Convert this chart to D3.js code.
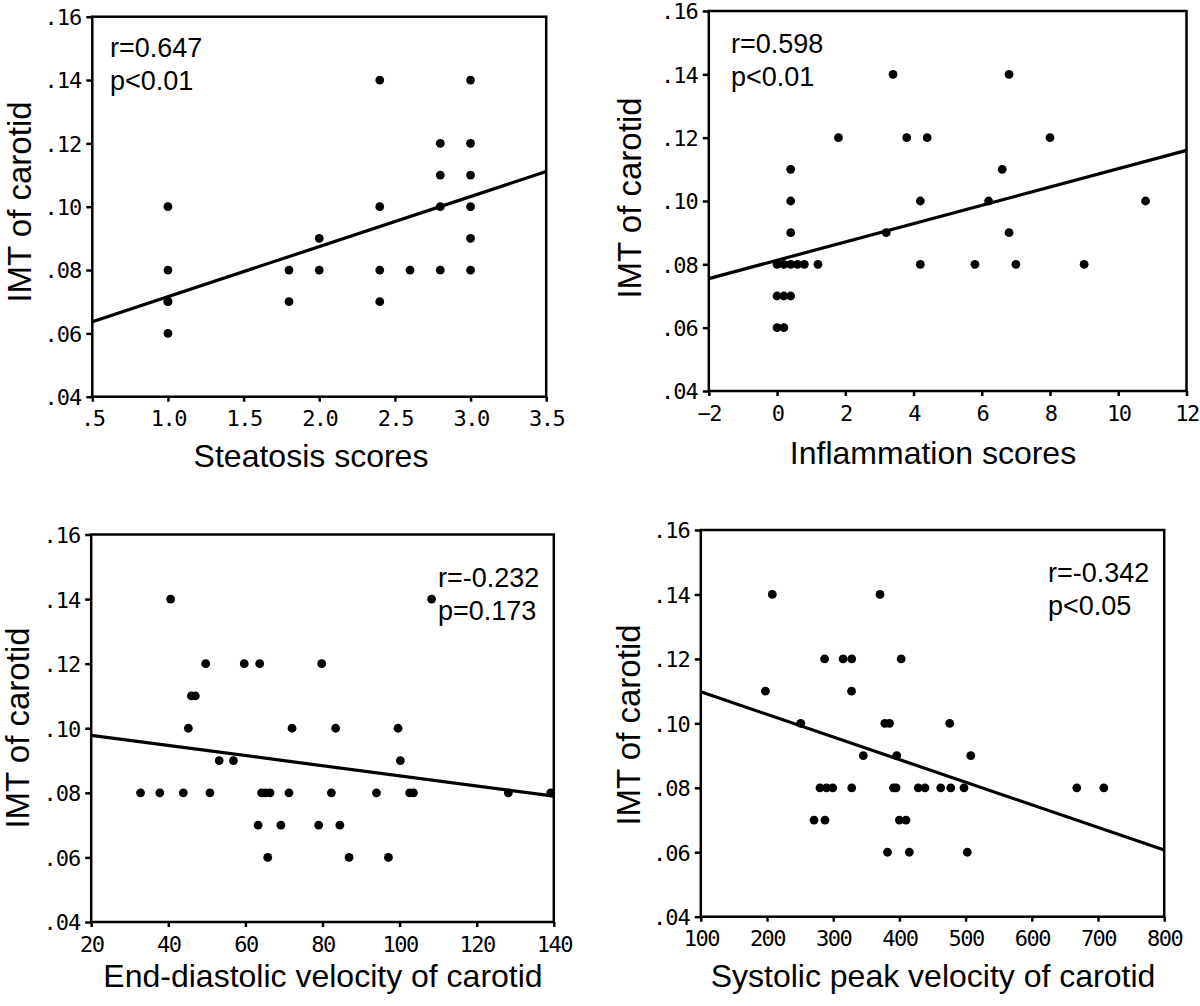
<!DOCTYPE html>
<html>
<head>
<meta charset="utf-8">
<script src="https://cdn.jsdelivr.net/npm/d3@7"></script>
<style>
  html, body { margin: 0; padding: 0; background: #fff; }
  svg { display: block; }
</style>
</head>
<body>
<svg id="chart" width="1200" height="1006"></svg>
<script>
// ---------------- DATA ----------------
const yTicks = [0.04, 0.06, 0.08, 0.10, 0.12, 0.14, 0.16];
const yLabel = "IMT of carotid";

// Panel 1: Steatosis scores
const steatosisTicks = [0.5, 1.0, 1.5, 2.0, 2.5, 3.0, 3.5];
const steatosisX = [1.0, 1.0, 1.0, 1.0, 1.0, 1.8, 1.8, 2.0, 2.0, 2.4, 2.4, 2.4, 2.4, 2.6, 2.8, 2.8, 2.8, 2.8, 3.0, 3.0, 3.0, 3.0, 3.0, 3.0];
const steatosisY = [0.10, 0.08, 0.07, 0.07, 0.06, 0.08, 0.07, 0.09, 0.08, 0.14, 0.10, 0.08, 0.07, 0.08, 0.12, 0.11, 0.10, 0.08, 0.14, 0.12, 0.11, 0.10, 0.09, 0.08];
const steatosisFit = [[0.5, 0.0637], [3.5, 0.1111]];
const steatosisStats = ["r=0.647", "p<0.01"];

// Panel 2: Inflammation scores
const inflammationTicks = [-2, 0, 2, 4, 6, 8, 10, 12];
const inflammationX = [0, 0.2, 0.4, 0.6, 0.8, 1.2, 0, 0.2, 0.4, 0, 0.2, 0.4, 0.4, 0.4, 1.8, 3.8, 4.4, 8.0, 3.4, 6.8, 4.2, 6.2, 10.8, 6.6, 3.2, 6.8, 4.2, 5.8, 7.0, 9.0];
const inflammationY = [0.08, 0.08, 0.08, 0.08, 0.08, 0.08, 0.07, 0.07, 0.07, 0.06, 0.06, 0.09, 0.10, 0.11, 0.12, 0.12, 0.12, 0.12, 0.14, 0.14, 0.10, 0.10, 0.10, 0.11, 0.09, 0.09, 0.08, 0.08, 0.08, 0.08];
const inflammationFit = [[-2, 0.0755], [12, 0.116]];
const inflammationStats = ["r=0.598", "p<0.01"];

// Panel 3: End-diastolic velocity
const edvTicks = [20, 40, 60, 80, 100, 120, 140];
const edvX = [40.6, 108.3, 49.7, 59.7, 63.7, 79.8, 46, 47, 45.2, 72.1, 83.4, 99.6, 53.2, 56.9, 100.2, 32.8, 37.8, 43.9, 50.8, 64.2, 65.2, 66.4, 71.3, 82.3, 94.0, 102.6, 103.6, 128.2, 139.2, 63.3, 69.2, 79.0, 84.5, 65.8, 86.9, 97.1];
const edvY = [0.14, 0.14, 0.12, 0.12, 0.12, 0.12, 0.11, 0.11, 0.10, 0.10, 0.10, 0.10, 0.09, 0.09, 0.09, 0.08, 0.08, 0.08, 0.08, 0.08, 0.08, 0.08, 0.08, 0.08, 0.08, 0.08, 0.08, 0.08, 0.08, 0.07, 0.07, 0.07, 0.07, 0.06, 0.06, 0.06];
const edvFit = [[20, 0.0978], [140, 0.079]];
const edvStats = ["r=-0.232", "p=0.173"];

// Panel 4: Systolic peak velocity
const spvTicks = [100, 200, 300, 400, 500, 600, 700, 800];
const spvX = [208, 370.7, 287, 315, 328, 402.7, 197.6, 327.7, 251, 378, 385, 476, 345.5, 396, 507.8, 280, 290, 299.3, 328, 391, 395, 428.5, 438.6, 462.4, 477.5, 497.6, 668, 708.8, 271, 287.6, 400, 410, 382, 415, 502.6];
const spvY = [0.14, 0.14, 0.12, 0.12, 0.12, 0.12, 0.11, 0.11, 0.10, 0.10, 0.10, 0.10, 0.09, 0.09, 0.09, 0.08, 0.08, 0.08, 0.08, 0.08, 0.08, 0.08, 0.08, 0.08, 0.08, 0.08, 0.08, 0.08, 0.07, 0.07, 0.07, 0.07, 0.06, 0.06, 0.06];
const spvFit = [[100, 0.1098], [800, 0.0607]];
const spvStats = ["r=-0.342", "p<0.05"];

const xTitles = ["Steatosis scores", "Inflammation scores", "End-diastolic velocity of carotid", "Systolic peak velocity of carotid"];

// ---------------- LAYOUT ----------------
const panels = [
  { xs: steatosisX, ys: steatosisY, ticks: steatosisTicks, fit: steatosisFit, stats: steatosisStats, title: xTitles[0],
    left: 92.3, right: 546.2, top: 16.7, bottom: 396.7,
    fmt: d => d === 0.5 ? ".5" : d3.format(".1f")(d),
    statX: 110, statY: 57, titleX: 311, titleY: 467, yTitleX: 31, yTitleY: 202 },
  { xs: inflammationX, ys: inflammationY, ticks: inflammationTicks, fit: inflammationFit, stats: inflammationStats, title: xTitles[1],
    left: 708.8, right: 1186.5, top: 11, bottom: 391,
    fmt: d => d < 0 ? "\u2212" + Math.abs(d) : String(d),
    statX: 731, statY: 53, titleX: 933, titleY: 464, yTitleX: 641, yTitleY: 198 },
  { xs: edvX, ys: edvY, ticks: edvTicks, fit: edvFit, stats: edvStats, title: xTitles[2],
    left: 91.2, right: 553.8, top: 534.5, bottom: 922,
    fmt: d => String(d),
    statX: 438, statY: 587, titleX: 323, titleY: 987, yTitleX: 29, yTitleY: 728 },
  { xs: spvX, ys: spvY, ticks: spvTicks, fit: spvFit, stats: spvStats, title: xTitles[3],
    left: 700.8, right: 1164.2, top: 530, bottom: 916.7,
    fmt: d => String(d),
    statX: 1048, statY: 582, titleX: 933, titleY: 987, yTitleX: 640, yTitleY: 725 }
];

const svg = d3.select("#chart");
const tickFont = "'DejaVu Sans Mono', monospace";
const textFont = "'Liberation Sans', Arial, sans-serif";
const yFmt = d => d3.format(".2f")(d).replace(/^0/, "");

panels.forEach(p => {
  const x = d3.scaleLinear().domain([p.ticks[0], p.ticks[p.ticks.length - 1]]).range([p.left, p.right]);
  const y = d3.scaleLinear().domain([0.04, 0.16]).range([p.bottom, p.top]);
  const g = svg.append("g");

  // y axis
  const ya = g.append("g").attr("transform", `translate(${p.left},0)`)
    .call(d3.axisLeft(y).tickValues(yTicks).tickFormat(yFmt).tickSize(6).tickSizeOuter(0).tickPadding(5));
  ya.select(".domain").remove();
  ya.selectAll(".tick line").attr("stroke", "#000").attr("stroke-width", 2.5);
  ya.selectAll(".tick text").attr("font-family", tickFont).attr("font-size", 22)
    .attr("letter-spacing", -1).attr("fill", "#000").attr("dy", "0.36em");

  // x axis
  const xa = g.append("g").attr("transform", `translate(0,${p.bottom})`)
    .call(d3.axisBottom(x).tickValues(p.ticks).tickFormat(p.fmt).tickSize(5).tickSizeOuter(0).tickPadding(9));
  xa.select(".domain").remove();
  xa.selectAll(".tick line").attr("stroke", "#000").attr("stroke-width", 2.5);
  xa.selectAll(".tick text").attr("font-family", tickFont).attr("font-size", 22)
    .attr("letter-spacing", -1.5).attr("fill", "#000");

  // frame
  g.append("rect")
    .attr("x", p.left).attr("y", p.top)
    .attr("width", p.right - p.left).attr("height", p.bottom - p.top)
    .attr("fill", "none").attr("stroke", "#000").attr("stroke-width", 2.5);

  // regression line
  g.append("line")
    .attr("x1", x(p.fit[0][0])).attr("y1", y(p.fit[0][1]))
    .attr("x2", x(p.fit[1][0])).attr("y2", y(p.fit[1][1]))
    .attr("stroke", "#000").attr("stroke-width", 3.2);

  // points
  g.selectAll("circle.pt").data(p.xs.map((v, i) => [v, p.ys[i]])).enter()
    .append("circle").attr("class", "pt")
    .attr("cx", d => x(d[0])).attr("cy", d => y(d[1])).attr("r", 4.4).attr("fill", "#000");

  // stats text
  p.stats.forEach((s, i) => {
    g.append("text").attr("x", p.statX).attr("y", p.statY + i * 33)
      .attr("font-family", textFont).attr("font-size", 27).attr("fill", "#000").text(s);
  });

  // x title
  g.append("text").attr("x", p.titleX).attr("y", p.titleY).attr("text-anchor", "middle")
    .attr("font-family", textFont).attr("font-size", 32).attr("fill", "#000").text(p.title);

  // y title
  g.append("text").attr("transform", `translate(${p.yTitleX},${p.yTitleY}) rotate(-90)`)
    .attr("text-anchor", "middle")
    .attr("font-family", textFont).attr("font-size", 33).attr("fill", "#000").text(yLabel);
});
</script>
</body>
</html>
